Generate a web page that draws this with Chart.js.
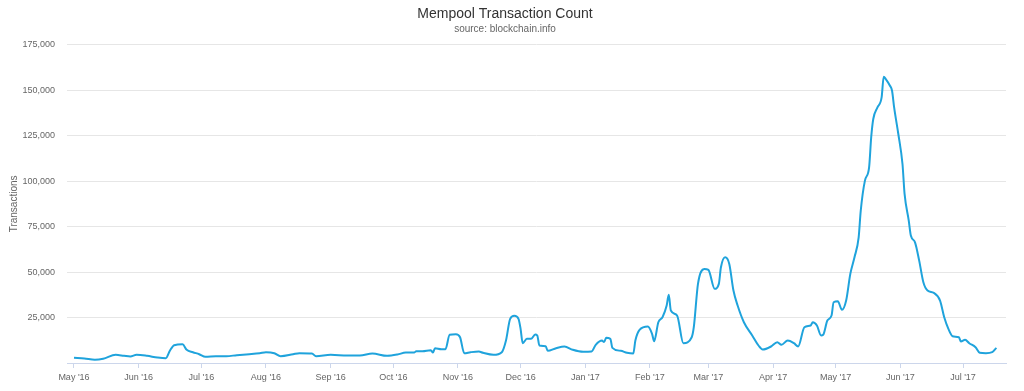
<!DOCTYPE html>
<html>
<head>
<meta charset="utf-8">
<script src="https://cdn.jsdelivr.net/npm/chart.js@4/dist/chart.umd.min.js"></script>
<style>
  html, body { margin: 0; padding: 0; background: #fff; }
  #wrap { width: 1024px; height: 391px; }
</style>
</head>
<body>
<div id="wrap"><canvas id="mempool" width="1024" height="391"></canvas></div>
<script>
// days since 1 May 2016
var days = [0, 5, 10, 14, 20, 24, 27, 30, 35, 40, 44, 46, 48, 52, 54, 57, 60, 63, 68, 73,
    78, 84, 89, 92, 96, 99, 105, 108, 114, 116, 123, 131, 137, 143, 150, 155, 159, 163, 164, 167,
    171, 172, 173, 176, 178, 180, 183, 185, 187, 190, 194, 196, 201, 205, 207, 209, 211, 213, 214, 215,
    217, 219, 221, 222, 223, 226, 227, 231, 235, 239, 244, 248, 250, 253, 254, 255, 257, 258, 262, 265,
    268, 269, 271, 275, 277, 278, 280, 282, 284, 285, 286, 289, 292, 296, 297, 299, 302, 304, 307, 309,
    310, 312, 314, 316, 318, 321, 325, 328, 330, 334, 337, 339, 342, 345, 347, 350, 353, 354, 356, 358,
    359, 361, 363, 364, 366, 368, 370, 372, 374, 376, 377, 379, 381, 382, 383, 385, 387, 388, 389, 391,
    392, 393, 395, 397, 398, 400, 401, 403, 405, 407, 409, 412, 415, 417, 419, 421, 424, 425, 427, 429,
    432, 434, 437, 440, 442];

var txCount = [2860, 2470, 1760, 2300, 4500, 3950, 3570, 4500, 3950, 3020, 2640, 6870, 9780, 10330, 7250, 5940, 4840, 3410, 3740, 3740,
    4290, 4840, 5390, 5930, 5390, 3740, 4840, 5390, 5220, 3740, 4500, 4120, 4120, 5220, 3960, 4670, 5770, 5770, 6490, 6490,
    7020, 5770, 8140, 7600, 7600, 15500, 15830, 14180, 5390, 5930, 6320, 5600, 4500, 5930, 12360, 24290, 25930, 24290, 18790, 10880,
    13300, 13300, 15660, 15110, 9620, 9230, 6700, 8140, 9070, 7250, 6150, 6320, 10000, 12360, 11500, 13850, 13300, 8350, 6700, 5600,
    5220, 12360, 18240, 20060, 16040, 12000, 22420, 25170, 31600, 37480, 28850, 26100, 10880, 14180, 19670, 43520, 51760, 51210, 40770, 43520,
    52640, 58140, 54510, 39840, 31600, 22420, 15110, 9620, 7420, 9070, 11430, 10000, 12360, 10880, 9070, 19670, 20610, 22420, 20610, 15110,
    15500, 23350, 26100, 33410, 33960, 29230, 34340, 49000, 58140, 69130, 83800, 100280, 107600, 124080, 134180, 140560, 146060, 157430, 156170, 152490,
    149740, 140560, 125950, 109460, 92980, 78310, 70060, 66380, 56320, 44400, 39840, 38580, 34340, 25170, 18790, 14730, 14180, 11810, 12750, 10880,
    8680, 5600, 5390, 5930, 8350];

var monthDays = [0, 31, 61, 92, 123, 153, 184, 214, 245, 276, 304, 335, 365, 396, 426];
var monthLabels = ["May '16", "Jun '16", "Jul '16", "Aug '16", "Sep '16", "Oct '16", "Nov '16",
    "Dec '16", "Jan '17", "Feb '17", "Mar '17", "Apr '17", "May '17", "Jun '17", "Jul '17"];

var yTicks = [0, 25000, 50000, 75000, 100000, 125000, 150000, 175000];

var font = "'Liberation Sans', Helvetica, Arial, sans-serif";

var points = [];
for (var i = 0; i < days.length; i++) {
    points.push({ x: days[i], y: txCount[i] });
}

var ctx = document.getElementById('mempool');

var chart = new Chart(ctx, {
    type: 'line',
    data: {
        datasets: [{
            label: 'Transactions',
            data: points,
            borderColor: '#1fa3dc',
            borderWidth: 2,
            pointRadius: 0,
            fill: false,
            cubicInterpolationMode: 'monotone'
        }]
    },
    options: {
        responsive: false,
        animation: false,
        layout: { padding: { left: 4, right: 18, top: 0, bottom: 0 } },
        plugins: {
            legend: { display: false },
            tooltip: { enabled: false },
            title: {
                display: true,
                text: 'Mempool Transaction Count',
                color: '#333333',
                font: { family: font, size: 14, weight: 'normal' },
                padding: { top: 6, bottom: 0 }
            },
            subtitle: {
                display: true,
                text: 'source: blockchain.info',
                color: '#666666',
                font: { family: font, size: 10, weight: 'normal' },
                padding: { top: 0, bottom: 10 }
            }
        },
        scales: {
            x: {
                type: 'linear',
                min: -3.35,
                max: 446.6,
                afterBuildTicks: function (scale) {
                    scale.ticks = monthDays.map(function (d) { return { value: d }; });
                },
                afterFit: function (scale) { scale.height = 28; },
                ticks: {
                    color: '#666666',
                    font: { family: font, size: 9 },
                    padding: 4,
                    maxRotation: 0,
                    autoSkip: false,
                    callback: function (value) {
                        var idx = monthDays.indexOf(value);
                        return idx >= 0 ? monthLabels[idx] : '';
                    }
                },
                grid: {
                    drawOnChartArea: false,
                    drawTicks: true,
                    tickLength: 5,
                    color: '#ccd6eb'
                },
                border: { color: '#ccd6eb', width: 1 }
            },
            y: {
                min: 0,
                max: 175000,
                afterBuildTicks: function (scale) {
                    scale.ticks = yTicks.map(function (v) { return { value: v }; });
                },
                afterFit: function (scale) { scale.width = 63; },
                title: {
                    display: true,
                    text: 'Transactions',
                    color: '#666666',
                    font: { family: font, size: 10 },
                    padding: { top: 4, bottom: 0 }
                },
                ticks: {
                    color: '#666666',
                    font: { family: font, size: 9 },
                    padding: 12,
                    callback: function (value) {
                        return value === 0 ? '' : value.toLocaleString('en-US');
                    }
                },
                grid: { color: '#e6e6e6', drawTicks: false },
                border: { display: false }
            }
        }
    }
});
</script>
</body>
</html>
